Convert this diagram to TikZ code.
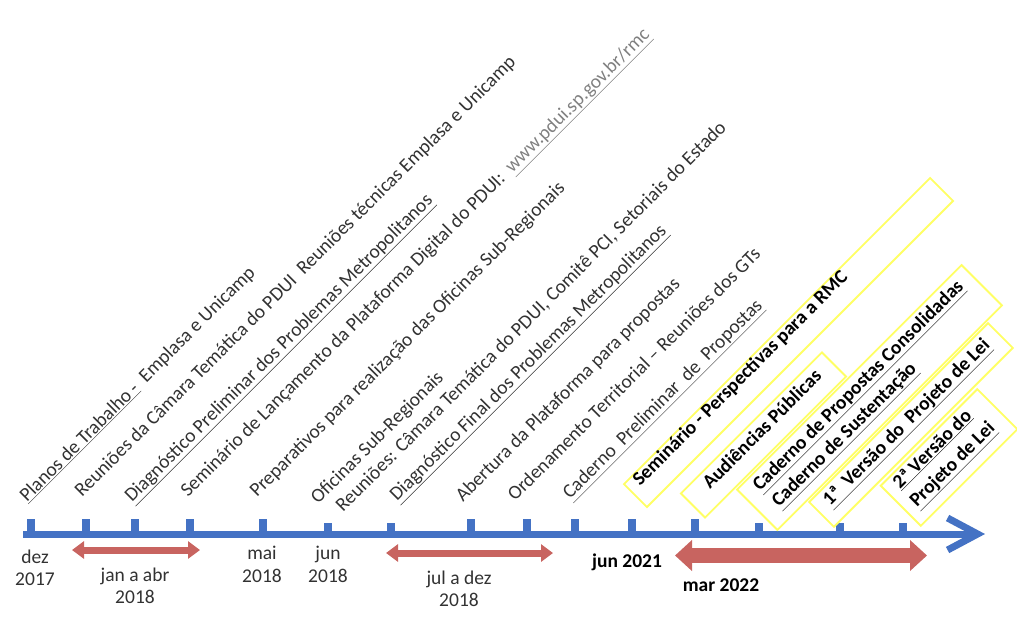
\documentclass[tikz,border=0pt]{standalone}
\usepackage{fontspec}
\setmainfont{Carlito}
\usetikzlibrary{arrows.meta}
\definecolor{tlblue}{RGB}{68,114,196}
\definecolor{tlred}{RGB}{200,100,96}
\definecolor{boxyellow}{RGB}{255,255,100}
\definecolor{labelgray}{RGB}{50,50,50}
\definecolor{urlgray}{RGB}{128,128,128}
\begin{document}
\begin{tikzpicture}[x=1pt,y=-1pt,
  lbl/.style={rotate=45,anchor=base west,inner sep=0pt,text=labelgray,font=\fontsize{19.5}{23}\selectfont},
  blbl/.style={rotate=45,anchor=base west,inner sep=0pt,text=black,font=\fontsize{19.5}{23}\selectfont\bfseries},
  ybox/.style={rotate=45,draw=boxyellow,line width=1.8pt,inner sep=0pt},
  tickmark/.style={fill=tlblue,minimum width=8pt,minimum height=16pt,inner sep=0pt,anchor=south},
  shorttick/.style={tickmark,minimum height=12pt},
  datelbl/.style={align=center,text=labelgray,font=\fontsize{19.5}{22.5}\selectfont,inner sep=0pt},
  bdatelbl/.style={align=center,text=black,font=\fontsize{19.5}{22.5}\selectfont\bfseries,inner sep=0pt},
  spanarrow/.style={draw=tlred,line width=7pt,{Triangle[length=12pt,width=17pt]}-{Triangle[length=12pt,width=17pt]}},
  bigspan/.style={draw=tlred,line width=15pt,{Triangle[length=17pt,width=30pt]}-{Triangle[length=17pt,width=30pt]}},
]
\useasboundingbox (0,0) rectangle (1017,619);

% timeline
\coordinate (tl0) at (23,534);
\coordinate (tl1) at (985,534);
\draw[tlblue,line width=7pt,-{Straight Barb[length=30pt,width=32pt]}] (tl0) -- (tl1);
\foreach \x/\n in {31/t1,86/t2,135/t3,190/t4,263/t5,471/t8,527/t9,575/t10,632/t11,695/t12}
  \node[tickmark] (\n) at (\x,535) {};
\foreach \x/\n in {328/t6,391/t7,759/t13,840/t14,903/t15}
  \node[shorttick] (\n) at (\x,535) {};

% period arrows
\coordinate (r1a) at (72,550); \coordinate (r1b) at (200,550);
\coordinate (r2a) at (386,553); \coordinate (r2b) at (553,553);
\coordinate (r3a) at (675,555.5); \coordinate (r3b) at (927,555.5);
\draw[spanarrow] (r1a) -- (r1b);
\draw[spanarrow] (r2a) -- (r2b);
\draw[bigspan] (r3a) -- (r3b);

% dates
\node[datelbl] (d1) at (35,568) {dez\\2017};
\node[datelbl] (d2) at (135,586) {jan a abr\\2018};
\node[datelbl] (d3) at (262,564.5) {mai\\2018};
\node[datelbl] (d4) at (328,564.5) {jun\\2018};
\node[datelbl] (d5) at (459,589) {jul a dez\\2018};
\node[bdatelbl] (d6) at (627,562) {jun 2021};
\node[bdatelbl] (d7) at (721,585) {mar 2022};

% rotated labels
\node[lbl] (l1) at (27,503) {\underline{Planos de Trabalho -}\ \ Emplasa e Unicamp};
\node[lbl] (l2) at (82,498) {Reuniões da Câmara Temática do PDUI\ \ Reuniões técnicas Emplasa e Unicamp};
\node[lbl] (l3) at (132,503) {\underline{Diagnóstico Preliminar dos Problemas Metropolitanos}};
\node[lbl] (l4) at (188,498) {Seminário de Lançamento da Plataforma Digital do PDUI:\ \ {\color{urlgray}\underline{www.pdui.sp.gov.br/rmc}}};
\node[lbl] (l5) at (257,498) {Preparativos para realização das Oficinas Sub-Regionais};
\node[lbl] (l6a) at (318,505) {Oficinas Sub-Regionais};
\node[lbl] (l6b) at (343,513) {Reuniões: Câmara Temática do PDUI, Comitê PCI, Setoriais do Estado};
\node[lbl] (l7) at (397,502) {\underline{Diagnóstico Final dos Problemas Metropolitanos}};
\node[lbl] (l8) at (463,503) {Abertura da Plataforma para propostas};
\node[lbl] (l9) at (515,502) {Ordenamento Territorial – Reuniões dos GTs};
\node[lbl] (l10) at (570,500) {\underline{Caderno\ \ Preliminar\ \ de\ \ Propostas}};

% yellow boxes
\node[ybox,minimum width=432.8pt,minimum height=32.5pt] (b1) at (788.5,342.5) {};
\node[ybox,minimum width=199.4pt,minimum height=34pt] (b2) at (763.5,435) {};
\node[ybox,minimum width=317.5pt,minimum height=57pt] (b3) at (869.5,397.5) {};
\node[ybox,minimum width=253pt,minimum height=35pt] (b4) at (911,425) {};
\node[ybox,minimum width=136.5pt,minimum height=56.6pt] (b5) at (949,457.5) {};

\node[blbl] (bt1) at (640,487) {Seminário - Perspectivas para a RMC};
\node[blbl] (bt2) at (710,490) {Audiências Públicas};
\node[blbl] (bt3a) at (760,492) {\underline{Caderno de Propostas Consolidadas}};
\node[blbl] (bt3b) at (779,508) {\underline{Caderno de Sustentação}};
\node[blbl] (bt4) at (830,507) {\underline{1ª\ \ Versão do\ \ Projeto de Lei}};
\node[blbl] (bt5a) at (900,490) {\underline{2ª Versão do}};
\node[blbl] (bt5b) at (917,508) {\underline{Projeto de Lei}};
\end{tikzpicture}
\end{document}
